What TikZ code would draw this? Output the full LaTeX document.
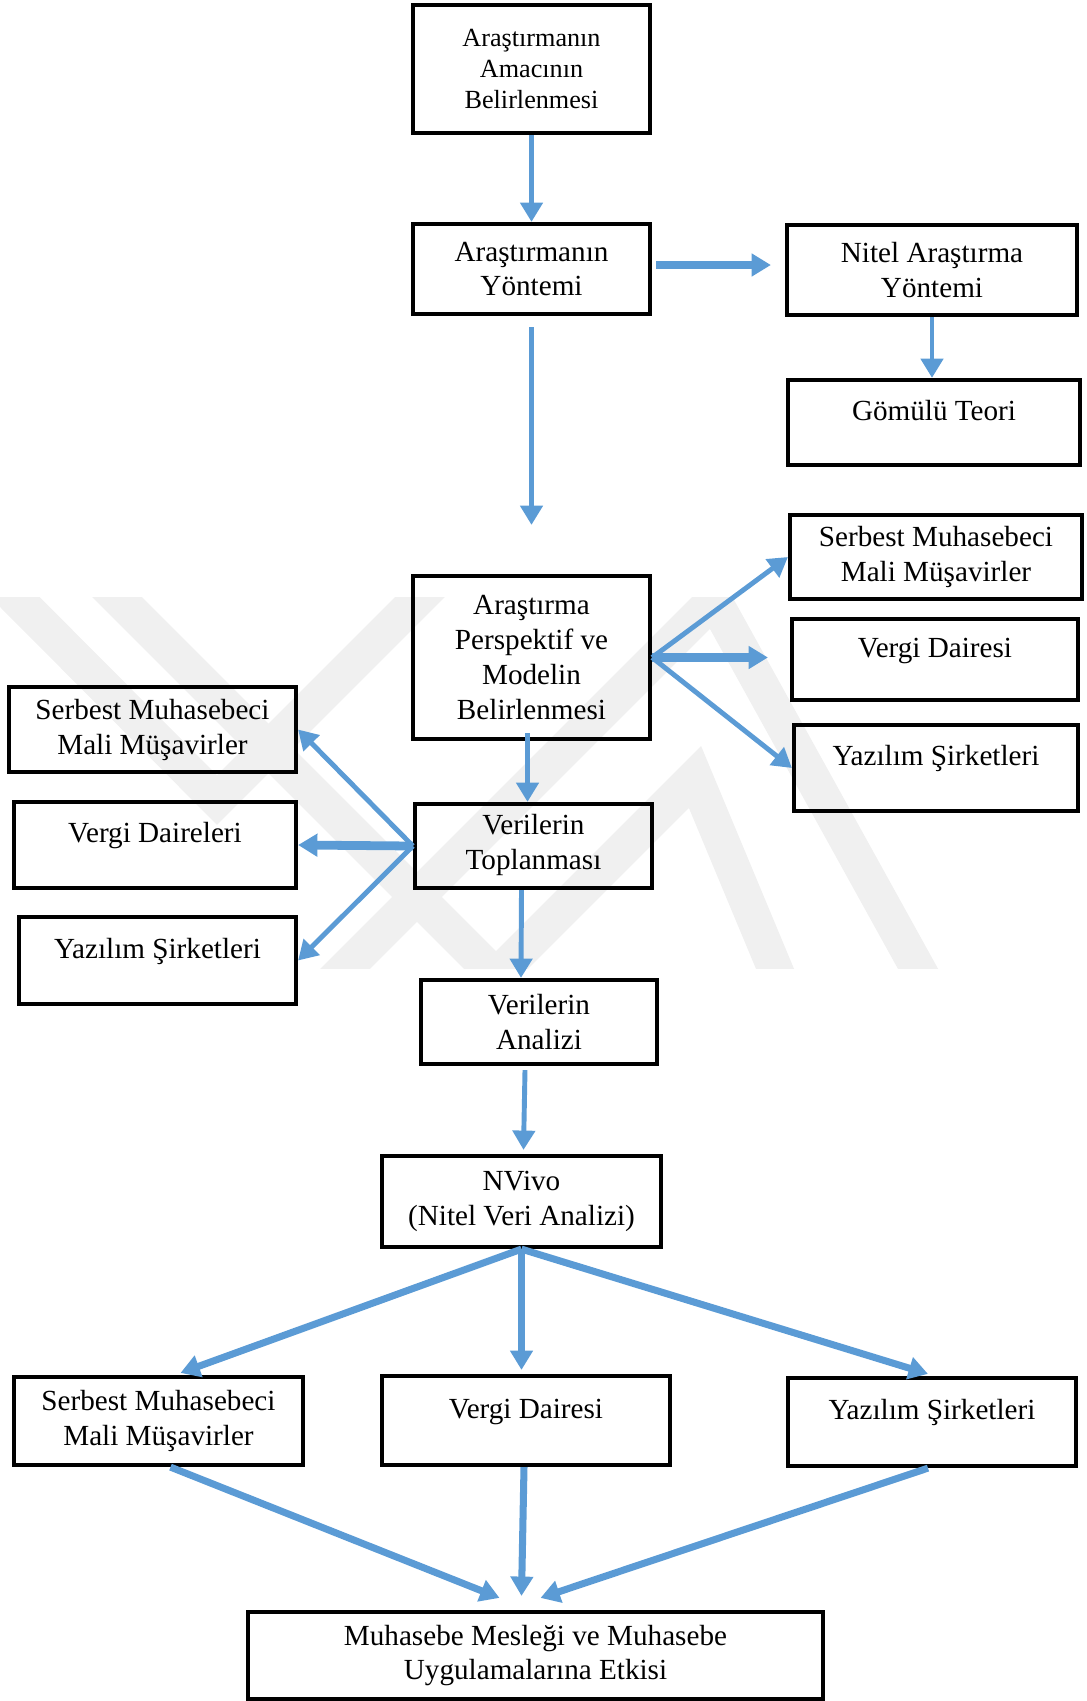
\documentclass[tikz,border=0pt]{standalone}
\usepackage{fontspec}
\setmainfont{Liberation Serif}
\usepackage{tikz}
\usetikzlibrary{arrows.meta,calc}
\definecolor{okmavi}{RGB}{91,155,213}
\tikzset{kutu/.style={draw,line width=2.4pt,align=center,inner sep=0pt,
    font=\fontsize{16.6}{19.9}\selectfont},
  tek/.style={text height=12pt,text depth=14.5pt},
  ok/.style={draw=okmavi,line width=2.8pt,-{Triangle[length=11pt,width=12.5pt]}},
  kalinok/.style={ok,line width=5pt},
  genisok/.style={ok,line width=4pt},
  iz/.style={draw=black!6,line width=20pt,line join=miter}}

\begin{document}
\begin{tikzpicture}[x=0.02cm,y=-0.02cm]
\useasboundingbox (0,0) rectangle (1086,1701);
\begin{scope}
  \clip (0,597) rectangle (1086,968);
  \draw[iz] (-20,562) -- (217,800) -- (455,562);
  \draw[iz] (80,560) -- (530,1010);
  \draw[iz] (300,1014) -- (714,600) -- (943,1014);
  \draw[iz] (460,1012) -- (695,777) -- (793,1012);
\end{scope}
\node[kutu,minimum width=4.74cm,minimum height=2.56cm,font=\fontsize{14.9}{17.6}\selectfont] (amac) at (531.5,69) {Araştırmanın\\Amacının\\Belirlenmesi};
\node[kutu,minimum width=4.74cm,minimum height=1.80cm] (yontem) at (531.5,269) {Araştırmanın\\Yöntemi};
\node[kutu,minimum width=5.80cm,minimum height=1.80cm] (nitel) at (932,270) {Nitel Araştırma\\Yöntemi};
\node[kutu,tek,minimum width=5.84cm,minimum height=1.70cm] (gomulu) at (934,422.5) {Gömülü Teori};
\node[kutu,minimum width=4.74cm,minimum height=3.26cm] (perspektif) at (531.5,657.5) {Araştırma\\Perspektif ve\\Modelin\\Belirlenmesi};
\node[kutu,minimum width=5.84cm,minimum height=1.68cm] (sagSerbest) at (936,557) {Serbest Muhasebeci\\Mali Müşavirler};
\node[kutu,tek,minimum width=5.72cm,minimum height=1.62cm] (sagVergi) at (935,659.5) {Vergi Dairesi};
\node[kutu,tek,minimum width=5.68cm,minimum height=1.72cm] (sagYazilim) at (936,768) {Yazılım Şirketleri};
\node[kutu,minimum width=4.74cm,minimum height=1.68cm,text depth=5pt] (toplama) at (533.5,846) {Verilerin\\Toplanması};
\node[kutu,minimum width=5.74cm,minimum height=1.70cm] (solSerbest) at (152.5,729.5) {Serbest Muhasebeci\\Mali Müşavirler};
\node[kutu,tek,minimum width=5.64cm,minimum height=1.72cm] (solVergi) at (155,845) {Vergi Daireleri};
\node[kutu,tek,minimum width=5.54cm,minimum height=1.74cm] (solYazilim) at (157.5,960.5) {Yazılım Şirketleri};
\node[kutu,minimum width=4.72cm,minimum height=1.68cm] (analiz) at (539,1022) {Verilerin\\Analizi};
\node[kutu,minimum width=5.58cm,minimum height=1.82cm] (nvivo) at (521.5,1201.5) {NVivo\\(Nitel Veri Analizi)};
\node[kutu,minimum width=5.78cm,minimum height=1.76cm] (altSerbest) at (158.5,1421) {Serbest Muhasebeci\\Mali Müşavirler};
\node[kutu,tek,minimum width=5.76cm,minimum height=1.78cm] (altVergi) at (526,1420.5) {Vergi Dairesi};
\node[kutu,tek,minimum width=5.76cm,minimum height=1.76cm] (altYazilim) at (932,1422) {Yazılım Şirketleri};
\node[kutu,minimum width=11.5cm,minimum height=1.74cm] (etki) at (535.5,1655.5) {Muhasebe Mesleği ve Muhasebe\\Uygulamalarına Etkisi};
\draw[ok] (amac) -- (yontem);
\draw[kalinok] ($(yontem.east)+(4,-4)$) -- ($(nitel.west)+(-14,-5)$);
\draw[ok] (nitel.south) -- (nitel.south |- gomulu.north);
\draw[ok] ($(yontem.south)+(0,11)$) -- ($(perspektif.north)+(0,-49)$);
\draw[ok] (perspektif.east) -- (sagSerbest.west);
\draw[kalinok] (perspektif.east) -- ($(sagVergi.west)+(-22,-2)$);
\draw[ok] (perspektif.east) -- (sagYazilim.west);
\draw[ok] ($(perspektif.south)+(-4,-8)$) -- ($(toplama.north)+(-6,0)$);
\draw[ok] (toplama.west) -- (solSerbest.east);
\draw[kalinok] (toplama.west) -- (solVergi.east);
\draw[ok] (toplama.west) -- (solYazilim.east);
\draw[ok] ($(toplama.south)+(-12,0)$) -- ($(analiz.north)+(-18,0)$);
\draw[ok] ($(analiz.south)+(-14,4)$) -- ($(nvivo.north)+(2,-4)$);
\draw[genisok] (nvivo.south) -- ($(altSerbest.north)+(22,-2)$);
\draw[genisok] (nvivo.south) -- ($(nvivo.south |- altVergi.north)+(0,-4)$);
\draw[genisok] (nvivo.south) -- ($(altYazilim.north)+(-4,-2)$);
\draw[genisok] ($(altSerbest.south)+(12,0)$) -- ($(etki.north)+(-36,-12)$);
\draw[genisok] ($(altVergi.south)+(-2,0)$) -- ($(etki.north)+(-14,-14)$);
\draw[genisok] ($(altYazilim.south)+(-4,0)$) -- ($(etki.north)+(5,-12)$);
\end{tikzpicture}
\end{document}
